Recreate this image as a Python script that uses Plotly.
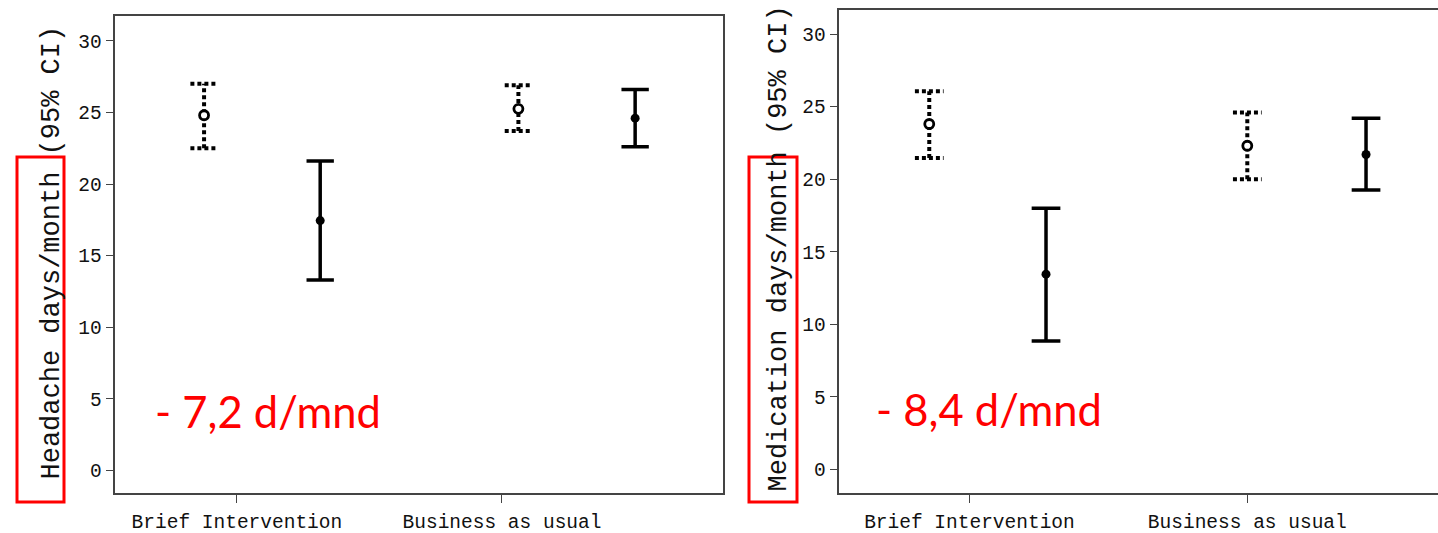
import plotly.graph_objects as go

# Groups shown on the x axis
groups = ["Brief Intervention", "Business as usual"]

# Headache days/month: mean with 95% CI, baseline (dotted) and follow-up (solid)
headache_base_mean = [24.8, 25.25]
headache_base_low = [22.5, 23.7]
headache_base_high = [27.0, 26.9]
headache_follow_mean = [17.45, 24.6]
headache_follow_low = [13.3, 22.6]
headache_follow_high = [21.6, 26.6]

# Medication days/month: mean with 95% CI
medication_base_mean = [23.8, 22.3]
medication_base_low = [21.45, 20.0]
medication_base_high = [26.05, 24.6]
medication_follow_mean = [13.45, 21.7]
medication_follow_low = [8.85, 19.25]
medication_follow_high = [18.0, 24.2]

y_ticks = [0, 5, 10, 15, 20, 25, 30]
change_labels = ["- 7,2 d/mnd", "- 8,4 d/mnd"]
y_titles = ["Headache days/month (95% CI)", "Medication days/month (95% CI)"]

# Layout constants (x positions along each panel's own axis)
W, H = 1438, 533
MONO = "Liberation Mono, Courier New, monospace"
CAP = 0.0225
panels = [
    dict(ticks=[0.200, 0.636], base_x=[0.146, 0.663], follow_x=[0.337, 0.855],
         xrange=[0, 1.0], xdom=[115.3 / W, 723.3 / W], ydom=[(H - 493.3) / H, (H - 16) / H],
         yrange=[-1.59, 31.73], mirror_y=True,
         data=(headache_base_mean, headache_base_low, headache_base_high,
               headache_follow_mean, headache_follow_low, headache_follow_high)),
    dict(ticks=[0.204, 0.6395], base_x=[0.141, 0.6395], follow_x=[0.324, 0.8256],
         xrange=[0, 598.7 / 638], xdom=[839.3 / W, 1.0], ydom=[(H - 493.3) / H, (H - 9.5) / H],
         yrange=[-1.65, 31.69], mirror_y=False,
         data=(medication_base_mean, medication_base_low, medication_base_high,
               medication_follow_mean, medication_follow_low, medication_follow_high)),
]

fig = go.Figure()


def add_ci(fig, xs, mean, low, high, dash, width, xa, ya, hollow):
    lx, ly = [], []
    for x, lo, hi in zip(xs, low, high):
        lx += [x, x, None, x - CAP, x + CAP, None, x - CAP, x + CAP, None]
        ly += [lo, hi, None, lo, lo, None, hi, hi, None]
    fig.add_trace(go.Scatter(x=lx, y=ly, mode="lines", xaxis=xa, yaxis=ya,
                             line=dict(color="black", width=width, dash=dash),
                             showlegend=False, hoverinfo="skip"))
    fig.add_trace(go.Scatter(x=xs, y=mean, mode="markers", xaxis=xa, yaxis=ya,
                             marker=dict(symbol="circle", size=9,
                                         color="white" if hollow else "black",
                                         line=dict(color="black", width=2.8 if hollow else 0)),
                             showlegend=False))


for i, p in enumerate(panels):
    xa = "x" if i == 0 else "x2"
    ya = "y" if i == 0 else "y2"
    bm, bl, bh, fm, fl, fh = p["data"]
    add_ci(fig, p["base_x"], bm, bl, bh, "4px,3px", 4, xa, ya, True)
    add_ci(fig, p["follow_x"], fm, fl, fh, "solid", 3.5, xa, ya, False)

    axis_common = dict(showgrid=False, zeroline=False, showline=True, automargin=False,
                       linecolor="#444", linewidth=1.5, ticks="outside",
                       ticklen=8, tickwidth=1.2, tickcolor="#444",
                       tickfont=dict(family=MONO, size=19.5, color="#111"))
    xkey = "xaxis" if i == 0 else "xaxis2"
    ykey = "yaxis" if i == 0 else "yaxis2"
    fig.update_layout(**{
        xkey: dict(axis_common, domain=p["xdom"], range=p["xrange"], anchor=ya,
                   tickmode="array", tickvals=p["ticks"], ticktext=groups, mirror=True,
                   ticklabelstandoff=2),
        ykey: dict(axis_common, domain=p["ydom"], range=p["yrange"], anchor=xa,
                   tickmode="array", tickvals=y_ticks, mirror=p["mirror_y"]),
    })

# Axis titles
fig.add_annotation(text=y_titles[0], xref="paper", yref="paper", x=51 / W, y=(H - 252.5) / H,
                   textangle=-90, showarrow=False, xanchor="center", yanchor="middle",
                   font=dict(family=MONO, size=27, color="#111"))
fig.add_annotation(text=y_titles[1], xref="paper", yref="paper", x=778 / W, y=(H - 248.5) / H,
                   textangle=-90, showarrow=False, xanchor="center", yanchor="middle",
                   font=dict(family=MONO, size=27, color="#111"))

# Change labels
fig.add_annotation(text=change_labels[0], xref="paper", yref="paper", x=267.5 / W, y=(H - 411) / H,
                   showarrow=False, xanchor="center", yanchor="middle",
                   font=dict(family="Lato, Open Sans, sans-serif", size=43.5, color="red"))
fig.add_annotation(text=change_labels[1], xref="paper", yref="paper", x=989 / W, y=(H - 409) / H,
                   showarrow=False, xanchor="center", yanchor="middle",
                   font=dict(family="Lato, Open Sans, sans-serif", size=43.5, color="red"))

# Highlight boxes around the first word of each axis title
for x0, x1 in [(17, 64), (749, 797)]:
    fig.add_shape(type="rect", xref="paper", yref="paper",
                  x0=x0 / W, x1=x1 / W, y0=(H - 502) / H, y1=(H - 157) / H,
                  line=dict(color="red", width=3), fillcolor="rgba(0,0,0,0)")

fig.update_layout(width=W, height=H, autosize=False,
                  margin=dict(l=0, r=0, t=0, b=0),
                  plot_bgcolor="white", paper_bgcolor="white")

fig.write_html("out.html")
